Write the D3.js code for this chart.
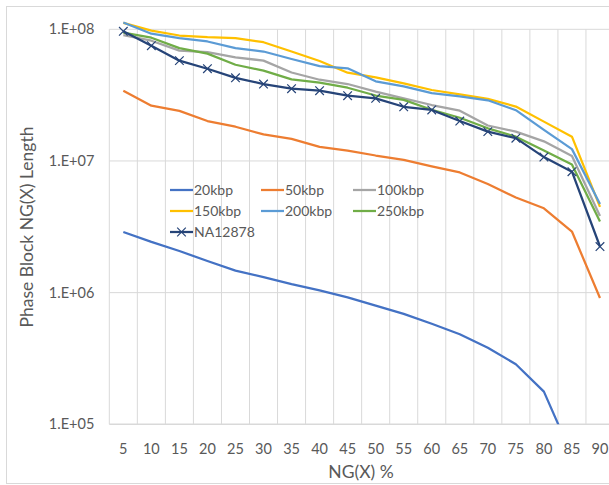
<!DOCTYPE html>
<html>
<head>
<meta charset="utf-8">
<script src="https://cdn.jsdelivr.net/npm/d3@7"></script>
<style>
  body { margin: 0; background: white; }
  text { font-family: Lato, "Open Sans", sans-serif; fill: #595959; }
</style>
</head>
<body>
<script>
// NG(X) values
let categories = [5, 10, 15, 20, 25, 30, 35, 40, 45, 50, 55, 60, 65, 70, 75, 80, 85, 90];

let kbp20 = [2.89e6, 2.43e6, 2.07e6, 1.74e6, 1.47e6, 1.31e6, 1.16e6, 1.04e6, 9.2e5, 7.97e5,
  6.9e5, 5.8e5, 4.83e5, 3.82e5, 2.86e5, 1.77e5, 5.8e4, null];
let kbp50 = [3.42e7, 2.63e7, 2.4e7, 2.01e7, 1.82e7, 1.59e7, 1.47e7, 1.28e7, 1.2e7, 1.1e7,
  1.02e7, 9.1e6, 8.18e6, 6.69e6, 5.28e6, 4.37e6, 2.91e6, 9.1e5];
let kbp100 = [9.02e7, 8.19e7, 6.88e7, 6.72e7, 6.13e7, 5.78e7, 4.7e7, 4.14e7, 3.84e7, 3.36e7,
  2.99e7, 2.66e7, 2.41e7, 1.86e7, 1.67e7, 1.41e7, 1.09e7, 3.82e6];
let kbp150 = [1.12e8, 9.76e7, 8.97e7, 8.71e7, 8.56e7, 7.98e7, 6.78e7, 5.74e7, 4.68e7, 4.32e7,
  3.89e7, 3.46e7, 3.21e7, 2.96e7, 2.59e7, 1.99e7, 1.53e7, 4.48e6];
let kbp200 = [1.126e8, 9.26e7, 8.56e7, 8.08e7, 7.19e7, 6.78e7, 5.95e7, 5.26e7, 5.06e7, 4.03e7,
  3.69e7, 3.28e7, 3.09e7, 2.89e7, 2.43e7, 1.72e7, 1.23e7, 4.72e6];
let kbp250 = [9.42e7, 8.63e7, 7.19e7, 6.53e7, 5.38e7, 4.85e7, 4.17e7, 3.93e7, 3.6e7, 3.14e7,
  2.91e7, 2.45e7, 2.13e7, 1.77e7, 1.53e7, 1.2e7, 9.41e6, 3.47e6];
let na12878 = [9.66e7, 7.51e7, 5.78e7, 5.02e7, 4.28e7, 3.84e7, 3.54e7, 3.42e7, 3.13e7, 2.99e7,
  2.58e7, 2.44e7, 2.01e7, 1.67e7, 1.49e7, 1.07e7, 8.29e6, 2.24e6];

let seriesNames = ["20kbp", "50kbp", "100kbp", "150kbp", "200kbp", "250kbp", "NA12878"];
let seriesValues = [kbp20, kbp50, kbp100, kbp150, kbp200, kbp250, na12878];
let colors = ["#4472C4", "#ED7D31", "#A5A5A5", "#FFC000", "#5B9BD5", "#70AD47", "#264478"];
let yTicks = [1e5, 1e6, 1e7, 1e8];

let svg = d3.select("body")
  .append("svg")
  .attr("width", 609)
  .attr("height", 485);

// chart border
svg.append("rect")
  .attr("x", 6.5).attr("y", 6.5)
  .attr("width", 620).attr("height", 477)
  .style("fill", "none")
  .style("stroke", "#D9D9D9");

let plotLeft = 109.3, plotRight = 614, plotTop = 29.3, plotBottom = 424.3;

let x = d3.scaleBand().domain(categories).range([plotLeft, plotRight]).padding(0);
let y = d3.scaleLog().domain([1e5, 1e8]).range([plotBottom, plotTop]);
let cx = d => x(d) + x.bandwidth() / 2;

// vertical gridlines between categories
svg.append("g")
  .selectAll("line")
  .data(categories)
  .join("line")
  .attr("x1", d => x(d)).attr("x2", d => x(d))
  .attr("y1", plotTop).attr("y2", plotBottom)
  .style("stroke", "#D9D9D9");

// horizontal gridlines
svg.append("g")
  .selectAll("line")
  .data(yTicks)
  .join("line")
  .attr("x1", plotLeft).attr("x2", plotRight)
  .attr("y1", d => y(d)).attr("y2", d => y(d))
  .style("stroke", "#D9D9D9")
  .style("stroke-width", d => d === 1e5 ? 1.5 : 1);

// y axis labels
let yAxis = svg.append("g")
  .attr("transform", `translate(${plotLeft - 15},0)`)
  .call(d3.axisLeft(y).tickValues(yTicks).tickSize(0).tickFormat(d => "1.E+0" + Math.round(Math.log10(d))));
yAxis.select(".domain").remove();
yAxis.selectAll("text")
  .attr("x", 0)
  .style("font-size", "14.5px")
  .style("font-family", "Lato, sans-serif")
  .attr("fill", "#595959");

// x axis labels
let xAxis = svg.append("g")
  .attr("transform", `translate(0,${plotBottom + 16})`)
  .call(d3.axisBottom(x).tickSize(0));
xAxis.select(".domain").remove();
xAxis.selectAll("text")
  .style("font-size", "14.5px")
  .style("font-family", "Lato, sans-serif")
  .attr("fill", "#595959");

// axis titles
svg.append("text")
  .attr("x", 361).attr("y", 478)
  .attr("text-anchor", "middle")
  .style("font-size", "17.5px")
  .text("NG(X) %");

svg.append("text")
  .attr("transform", "translate(33,227) rotate(-90)")
  .attr("text-anchor", "middle")
  .style("font-size", "17.5px")
  .text("Phase Block NG(X) Length");

// clip the lines to the plot
svg.append("clipPath").attr("id", "plot")
  .append("rect")
  .attr("x", plotLeft).attr("y", 0)
  .attr("width", plotRight - plotLeft).attr("height", plotBottom);

let line = d3.line()
  .defined(d => d != null)
  .x((d, i) => cx(categories[i]))
  .y(d => y(d));

let lines = svg.append("g").attr("clip-path", "url(#plot)");
seriesValues.forEach((vals, k) => {
  lines.append("path")
    .datum(vals)
    .attr("d", line)
    .style("fill", "none")
    .style("stroke", colors[k])
    .style("stroke-width", 2.25)
    .style("stroke-linejoin", "round");
});

// X markers for NA12878
let cross = d3.symbol().type(d3.symbolX).size(50);
svg.append("g")
  .selectAll("path")
  .data(na12878)
  .join("path")
  .attr("d", cross)
  .attr("transform", (d, i) => `translate(${cx(categories[i])},${y(d)})`)
  .style("fill", "none")
  .style("stroke", colors[6])
  .style("stroke-width", 1.2);

// legend
let legendPos = [
  [170, 190], [261, 190], [353, 190],
  [170, 211], [261, 211], [353, 211],
  [170, 232]
];
let legend = svg.append("g");
seriesNames.forEach((name, k) => {
  let [lx, ly] = legendPos[k];
  legend.append("line")
    .attr("x1", lx).attr("x2", lx + 23)
    .attr("y1", ly).attr("y2", ly)
    .style("stroke", colors[k])
    .style("stroke-width", 2.25);
  if (k === 6) {
    legend.append("path")
      .attr("d", cross)
      .attr("transform", `translate(${lx + 11.5},${ly})`)
      .style("fill", "none")
      .style("stroke", colors[k])
      .style("stroke-width", 1.2);
  }
  legend.append("text")
    .attr("x", lx + 24).attr("y", ly)
    .attr("dy", "0.35em")
    .style("font-size", "14px")
    .text(name);
});
</script>
</body>
</html>
